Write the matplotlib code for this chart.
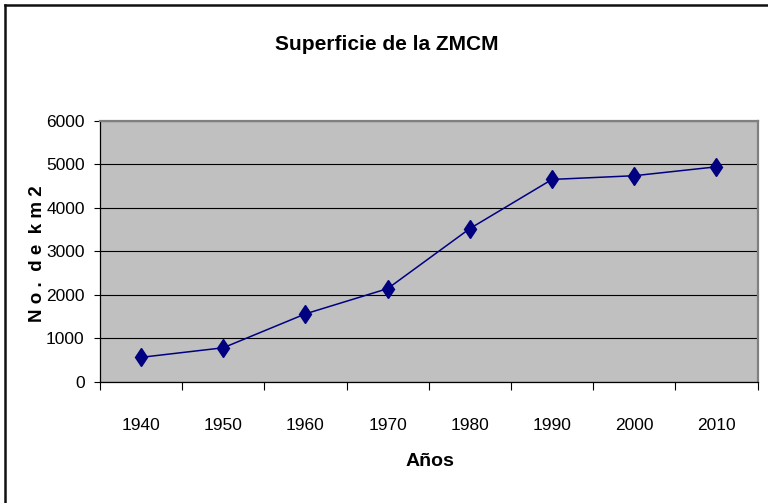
import matplotlib
matplotlib.use("Agg")
import matplotlib.pyplot as plt
from matplotlib.lines import Line2D

# superficie de la zona metropolitana por decada
anios = ["1940", "1950", "1960", "1970", "1980", "1990", "2000", "2010"]
superficie = [560, 780, 1560, 2140, 3520, 4650, 4735, 4940]
yticks = [0, 1000, 2000, 3000, 4000, 5000, 6000]

plt.rcParams['font.family'] = ['Liberation Sans Narrow', 'Liberation Sans', 'DejaVu Sans']

W, H = 768, 503
fig = plt.figure(figsize=(W / 100, H / 100), dpi=100)
ax = fig.add_axes([100 / W, 1 - 381.7 / H, 657.5 / W, 261 / H])
ax.set_facecolor('#C0C0C0')

x = list(range(len(anios)))
ax.plot(x, superficie, color='#000080', lw=1.1, marker='d',
        markersize=9.5, markerfacecolor='#000080', markeredgecolor='#000080', zorder=3)

ax.set_ylim(0, 6000)
ax.set_yticks(yticks)
ax.set_yticklabels([str(v) for v in yticks], fontsize=12.5)
ax.yaxis.grid(True, color='black', lw=0.8)
ax.set_axisbelow(True)

# ticks mayores en los limites de categoria, etiquetas al centro
ax.set_xlim(-0.5, len(anios) - 0.5)
ax.set_xticks([i - 0.5 for i in range(len(anios) + 1)])
ax.set_xticklabels([])
ax.set_xticks(x, minor=True)
ax.set_xticklabels(anios, minor=True, fontsize=12.5)
ax.tick_params(axis='x', which='major', length=5.5, width=0.8, direction='out')
ax.tick_params(axis='x', which='minor', length=0, pad=26)
ax.tick_params(axis='y', length=4, width=0.8, pad=7)

for s in ['top', 'right']:
    ax.spines[s].set_color('#808080')
    ax.spines[s].set_linewidth(1.6)
for s in ['left', 'bottom']:
    ax.spines[s].set_color('black')
    ax.spines[s].set_linewidth(0.9)

fig.text(387 / W, 1 - 45 / H, "Superficie de la ZMCM",
         ha='center', va='center', fontsize=15, fontweight='bold')
fig.text(430 / W, 1 - 462 / H, "Años", ha='center', va='center',
         fontsize=14, fontweight='bold')
fig.text(37 / W, 1 - 254 / H, "N o .  d e  k m 2", ha='center', va='center',
         rotation=90, fontsize=13.5, fontweight='bold')

# marco del grafico (solo izquierda y arriba)
fig.add_artist(Line2D([4.5 / W, 4.5 / W], [0, 1 - 5 / H], color='#111111',
                      lw=1.8, transform=fig.transFigure))
fig.add_artist(Line2D([4.5 / W, 1], [1 - 5 / H, 1 - 5 / H], color='#111111',
                      lw=1.8, transform=fig.transFigure))

fig.savefig("out.png", dpi=100)
